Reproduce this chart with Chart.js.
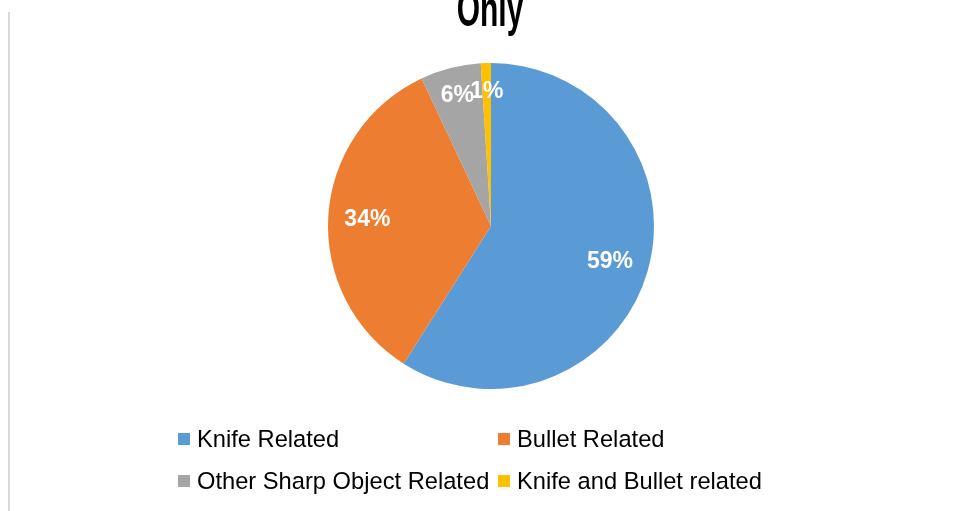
<!DOCTYPE html>
<html>
<head>
<meta charset="utf-8">
<script src="https://cdn.jsdelivr.net/npm/chart.js@4.4.0/dist/chart.umd.min.js"></script>
<style>
    html, body { margin: 0; padding: 0; background: #fff; }
    #wrap { position: relative; width: 962px; height: 511px; overflow: hidden; }
    #borde { position: absolute; left: 8px; top: 12px; width: 2px; height: 499px; background: #d9d9d9; }
    #leyenda {
        position: absolute; left: 178px; top: 427px;
        display: grid; grid-template-columns: 320px 280px; row-gap: 18px;
        font-family: "Liberation Sans", Arial, sans-serif; font-size: 23.7px; color: #000;
    }
    .item { display: flex; align-items: center; white-space: nowrap; height: 24px; }
    .caja { width: 12px; height: 12px; margin-right: 7px; }
</style>
</head>
<body>
<div id="wrap">
    <canvas id="myChart" width="962" height="511"></canvas>
    <div id="borde"></div>
    <div id="leyenda"></div>
</div>
<script>
const categorias = ["Knife Related", "Bullet Related", "Other Sharp Object Related", "Knife and Bullet related"];
const valores = [59, 34, 6, 1];
const colores = ["#5b9bd5", "#ed7d31", "#a5a5a5", "#ffc000"];
const titulo = "Only";

const etiquetasPlugin = {
    id: "etiquetas",
    afterDatasetsDraw(chart) {
        const ctx = chart.ctx;
        const total = valores.reduce((a, b) => a + b, 0);
        const meta = chart.getDatasetMeta(0);
        ctx.save();
        ctx.font = "bold 23px 'Liberation Sans', Arial, sans-serif";
        ctx.fillStyle = "#ffffff";
        ctx.textAlign = "center";
        ctx.textBaseline = "middle";
        meta.data.forEach((arc, i) => {
            const p = arc.getProps(["x", "y", "startAngle", "endAngle", "outerRadius"], true);
            const medio = (p.startAngle + p.endAngle) / 2;
            const pct = Math.round(valores[i] / total * 100);
            const r = p.outerRadius * (pct < 10 ? 0.83 : 0.76);
            ctx.fillText(pct + "%", p.x + Math.cos(medio) * r, p.y + Math.sin(medio) * r + 1);
        });
        ctx.restore();
    }
};

// titulo cortado por arriba, como en la imagen
const tituloPlugin = {
    id: "tituloCortado",
    afterDraw(chart) {
        const ctx = chart.ctx;
        const a = chart.chartArea;
        ctx.save();
        ctx.translate((a.left + a.right) / 2 - 1, 25.5);
        ctx.scale(0.6, 1);
        ctx.font = "bold 50px 'Liberation Sans', Arial, sans-serif";
        ctx.fillStyle = "#000";
        ctx.textAlign = "center";
        ctx.textBaseline = "alphabetic";
        ctx.fillText(titulo, 0, 0);
        ctx.restore();
    }
};

function cargarLeyenda() {
    const leyenda = document.getElementById("leyenda");
    categorias.forEach((cat, i) => {
        const item = document.createElement("div");
        item.className = "item";
        item.innerHTML = `<span class="caja" style="background:${colores[i]}"></span><span>${cat}</span>`;
        leyenda.appendChild(item);
    });
}

window.onload = () => {
    const ctx = document.getElementById("myChart").getContext("2d");
    new Chart(ctx, {
        type: "pie",
        data: {
            labels: categorias,
            datasets: [{ data: valores, backgroundColor: colores, borderWidth: 0 }]
        },
        options: {
            responsive: false,
            animation: false,
            layout: { padding: { top: 63, bottom: 122, left: 30, right: 10 } },
            plugins: {
                legend: { display: false },
                tooltip: { enabled: false },
                title: { display: false }
            }
        },
        plugins: [etiquetasPlugin, tituloPlugin]
    });
    cargarLeyenda();
};
</script>
</body>
</html>
